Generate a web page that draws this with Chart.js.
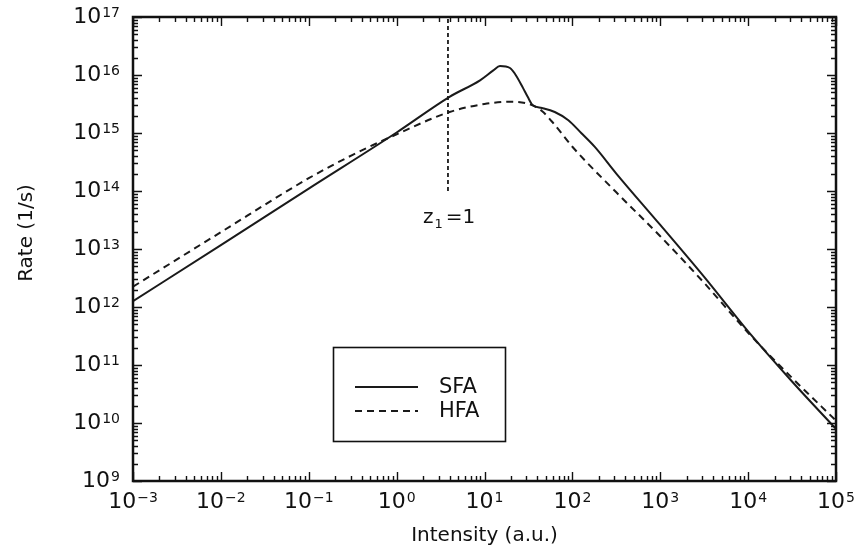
<!DOCTYPE html>
<html><head><meta charset="utf-8">
<script src="https://cdn.jsdelivr.net/npm/chart.js@4"></script>
<style>html,body{margin:0;padding:0;background:#fff}canvas{display:block}</style>
</head><body>
<canvas id="c" width="858" height="554"></canvas>
<script>
// ---- data ----
const seriesLabels = ['SFA', 'HFA'];
const intensitySFA = [1e-3, 1e-2, 1e-1, 1, 4, 8.9, 12.6, 15, 19.5, 22, 27.4, 31, 35.5, 45, 63, 90, 126, 180, 316, 1e3, 3.16e3, 1e4, 3.16e4, 1e5];
const rateSFA      = [1.26e12, 1.17e13, 1.10e14, 1.02e15, 4.2e15, 8.1e15, 1.2e16, 1.43e16, 1.32e16, 1.07e16, 6.0e15, 4.2e15, 3.0e15, 2.7e15, 2.3e15, 1.66e15, 1.0e15, 5.75e14, 2.0e14, 2.6e13, 3.3e12, 3.8e11, 5.2e10, 7.9e9];
const intensityHFA = [1e-3, 1e-2, 1e-1, 0.316, 1, 4, 10, 20, 32, 45, 63, 100, 316, 1e3, 3.16e3, 1e4, 3.16e4, 1e5];
const rateHFA      = [2.24e12, 1.95e13, 1.66e14, 4.2e14, 9.5e14, 2.3e15, 3.16e15, 3.47e15, 3.16e15, 2.4e15, 1.38e15, 5.8e14, 9.5e13, 1.66e13, 2.6e12, 3.6e11, 6.0e10, 1.1e10];
const markerIntensity = 3.84;
const markerRates = [1e14, 1e17];
const markerText = ['z', '1', '=1'];
const xTickExponents = [-3, -2, -1, 0, 1, 2, 3, 4, 5];
const yTickExponents = [9, 10, 11, 12, 13, 14, 15, 16, 17];
const xTitle = 'Intensity (a.u.)';
const yTitle = 'Rate (1/s)';

const FONT = '"DejaVu Sans", sans-serif';
const INK = '#111';

function pts(xs, ys) { return xs.map((x, i) => ({ x: x, y: ys[i] })); }
function sup(e) { return String(e).replace('-', '\u2212'); }

function drawPow(ctx, e, x, y, mode) {
  ctx.save();
  ctx.fillStyle = INK;
  ctx.font = '22px ' + FONT;
  const w10 = ctx.measureText('10').width;
  ctx.font = '14px ' + FONT;
  const we = ctx.measureText(sup(e)).width;
  const total = w10 + 1 + we;
  const start = mode === 'center' ? x - total / 2 : x - total;
  ctx.textAlign = 'left';
  ctx.textBaseline = 'middle';
  ctx.font = '22px ' + FONT;
  ctx.fillText('10', start, y);
  ctx.textBaseline = 'top';
  ctx.font = '14px ' + FONT;
  ctx.fillText(sup(e), start + w10 + 1, y - 11);
  ctx.restore();
}

const framePlugin = {
  id: 'frame',
  beforeDraw(chart) {
    const ctx = chart.ctx;
    ctx.save();
    ctx.fillStyle = '#fff';
    ctx.fillRect(0, 0, chart.width, chart.height);
    ctx.restore();
  },
  afterDatasetsDraw(chart) {
    const ctx = chart.ctx, a = chart.chartArea;
    const xs = chart.scales.x, ys = chart.scales.y;
    ctx.save();
    ctx.strokeStyle = INK;
    ctx.setLineDash([]);
    // ticks
    ctx.lineWidth = 1.4;
    ctx.beginPath();
    for (const e of xTickExponents) {
      for (let m = 1; m <= 9; m++) {
        const v = m * Math.pow(10, e);
        if (v > xs.max * 1.0001) break;
        const px = Math.round(xs.getPixelForValue(v)) + 0.5;
        const len = m === 1 ? 9 : 5;
        ctx.moveTo(px, a.bottom); ctx.lineTo(px, a.bottom - len);
        ctx.moveTo(px, a.top); ctx.lineTo(px, a.top + len);
      }
    }
    for (const e of yTickExponents) {
      for (let m = 1; m <= 9; m++) {
        const v = m * Math.pow(10, e);
        if (v > ys.max * 1.0001) break;
        const py = Math.round(ys.getPixelForValue(v)) + 0.5;
        const len = m === 1 ? 9 : 5;
        ctx.moveTo(a.left, py); ctx.lineTo(a.left + len, py);
        ctx.moveTo(a.right, py); ctx.lineTo(a.right - len, py);
      }
    }
    ctx.stroke();
    // frame
    ctx.lineWidth = 2.5;
    ctx.strokeRect(a.left, a.top, a.right - a.left, a.bottom - a.top);
    // tick labels
    for (const e of xTickExponents) {
      drawPow(ctx, e, xs.getPixelForValue(Math.pow(10, e)), a.bottom + 21, 'center');
    }
    for (const e of yTickExponents) {
      drawPow(ctx, e, a.left - 13, ys.getPixelForValue(Math.pow(10, e)), 'right');
    }
    // axis titles
    ctx.fillStyle = INK;
    ctx.font = '20px ' + FONT;
    ctx.textAlign = 'center';
    ctx.textBaseline = 'alphabetic';
    ctx.fillText(xTitle, (a.left + a.right) / 2, 541);
    ctx.save();
    ctx.translate(32, 233);
    ctx.rotate(-Math.PI / 2);
    ctx.fillText(yTitle, 0, 0);
    ctx.restore();
    // marker label z1=1
    ctx.textAlign = 'left';
    ctx.font = '20px ' + FONT;
    let tx = 423;
    ctx.fillText(markerText[0], tx, 223);
    tx += ctx.measureText(markerText[0]).width + 1;
    ctx.font = '13px ' + FONT;
    ctx.fillText(markerText[1], tx, 228);
    tx += ctx.measureText(markerText[1]).width + 3;
    ctx.font = '20px ' + FONT;
    ctx.fillText(markerText[2], tx, 223);
    // legend box
    ctx.lineWidth = 1.6;
    ctx.strokeRect(333.5, 347.5, 172, 94);
    const rows = [387, 411];
    for (let i = 0; i < 2; i++) {
      const ds = chart.data.datasets[i];
      ctx.save();
      ctx.strokeStyle = ds.borderColor;
      ctx.lineWidth = ds.borderWidth;
      ctx.setLineDash(ds.borderDash || []);
      ctx.beginPath();
      ctx.moveTo(355, rows[i]); ctx.lineTo(418, rows[i]);
      ctx.stroke();
      ctx.restore();
      ctx.fillStyle = INK;
      ctx.font = '21px ' + FONT;
      ctx.textBaseline = 'middle';
      ctx.fillText(ds.label, 439, rows[i] + 1);
    }
    ctx.restore();
  }
};

new Chart(document.getElementById('c'), {
  type: 'line',
  data: {
    datasets: [
      { label: seriesLabels[0], data: pts(intensitySFA, rateSFA), borderColor: '#1a1a1a', borderWidth: 2, pointRadius: 0, fill: false, cubicInterpolationMode: 'monotone' },
      { label: seriesLabels[1], data: pts(intensityHFA, rateHFA), borderColor: '#1a1a1a', borderWidth: 2, borderDash: [7, 5], pointRadius: 0, fill: false, cubicInterpolationMode: 'monotone' },
      { label: 'z1=1', data: pts([markerIntensity, markerIntensity], markerRates), borderColor: '#1a1a1a', borderWidth: 1.8, borderDash: [4, 3], pointRadius: 0, fill: false }
    ]
  },
  options: {
    responsive: false,
    animation: false,
    devicePixelRatio: 1,
    layout: { padding: { top: 17, right: 22, left: 0, bottom: 0 } },
    plugins: { legend: { display: false }, tooltip: { enabled: false }, title: { display: false } },
    scales: {
      x: {
        type: 'logarithmic', min: 1e-3, max: 1e5,
        ticks: { display: false }, grid: { display: false }, border: { display: false },
        afterFit(s) { s.height = 73; }
      },
      y: {
        type: 'logarithmic', min: 1e9, max: 1e17,
        ticks: { display: false }, grid: { display: false }, border: { display: false },
        afterFit(s) { s.width = 133; }
      }
    }
  },
  plugins: [framePlugin]
});
</script>
</body></html>
